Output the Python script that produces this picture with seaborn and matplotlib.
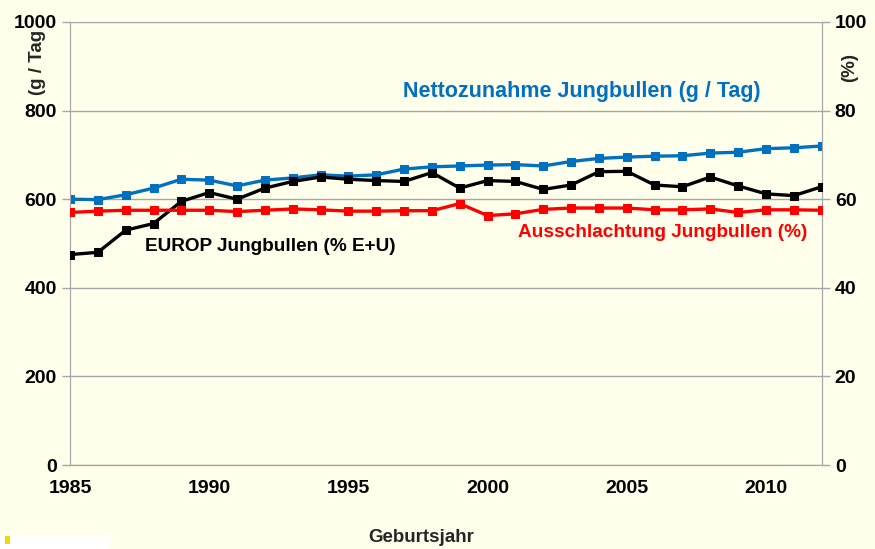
import numpy as np
import pandas as pd
import seaborn as sns
import matplotlib
import matplotlib.pyplot as plt
from matplotlib.patches import Rectangle
matplotlib.use('Agg')

# values
years = list(range(1985, 2013))
netto = [600, 599, 610, 625, 645, 643, 630, 643, 648, 655, 652, 655, 668, 673,
         675, 677, 678, 675, 685, 692, 695, 697, 698, 704, 706, 714, 716, 720]
europ = [47.5, 48.0, 53.0, 54.5, 59.5, 61.5, 60.0, 62.5, 64.0, 65.0, 64.5, 64.2, 64.0, 66.0,
         62.5, 64.2, 64.0, 62.2, 63.2, 66.2, 66.3, 63.2, 62.8, 65.0, 63.0, 61.2, 60.8, 62.8]
ausschl = [57.0, 57.3, 57.5, 57.5, 57.5, 57.5, 57.2, 57.5, 57.8, 57.6, 57.3, 57.3, 57.4, 57.4,
           59.0, 56.3, 56.7, 57.7, 58.0, 58.0, 58.0, 57.6, 57.6, 57.8, 57.0, 57.6, 57.6, 57.5]
left_ticks = [0, 200, 400, 600, 800, 1000]
right_ticks = [0, 20, 40, 60, 80, 100]
x_ticks = [1985, 1990, 1995, 2000, 2005, 2010]

df = pd.DataFrame({'Jahr': years, 'netto': netto, 'europ': europ, 'ausschl': ausschl})

bg = '#FFFFEC'
grid_col = '#A6A6A6'
blue = '#0070C0'
red = '#FF0000'

sns.set_style('white')
plt.rcParams['font.family'] = ['Liberation Sans', 'DejaVu Sans']
plt.rcParams['font.weight'] = 'bold'

fig = plt.figure(figsize=(8.75, 5.49), dpi=100, facecolor=bg)
ax = fig.add_axes([0.080, 0.153, 0.859, 0.807])
ax.set_facecolor(bg)
ax2 = ax.twinx()

sns.lineplot(data=df, x='Jahr', y='netto', ax=ax, color=blue, lw=2.4,
             marker='s', markersize=5.5, markeredgecolor=blue, zorder=3)
sns.lineplot(data=df, x='Jahr', y='europ', ax=ax2, color='black', lw=2.4,
             marker='s', markersize=5.5, markeredgecolor='black', zorder=3)
sns.lineplot(data=df, x='Jahr', y='ausschl', ax=ax2, color=red, lw=2.4,
             marker='s', markersize=5.5, markeredgecolor=red, zorder=3)

ax.set_xlim(1985, 2012)
ax.set_ylim(0, 1000)
ax2.set_ylim(0, 100)
ax.set_xticks(x_ticks)
ax.set_yticks(left_ticks)
ax2.set_yticks(right_ticks)
ax.set_xlabel('')
ax.set_ylabel('')
ax2.set_ylabel('')

for y in left_ticks:
    ax.axhline(y, color=grid_col, lw=1, zorder=0)

for a in (ax, ax2):
    for s in a.spines.values():
        s.set_color(grid_col)
    a.spines['top'].set_visible(False)
    a.tick_params(colors=grid_col, labelcolor='black', labelsize=14,
                  length=6, width=1, direction='out')
    for lab in a.get_xticklabels() + a.get_yticklabels():
        lab.set_fontweight('bold')
ax.tick_params(axis='x', pad=5)

ax.text(2003.4, 842, 'Nettozunahme Jungbullen (g / Tag)', color=blue,
        fontsize=15.5, fontweight='bold', ha='center', va='center')
ax.text(1987.7, 494, 'EUROP Jungbullen (% E+U)', color='black',
        fontsize=13.7, fontweight='bold', ha='left', va='center')
ax.text(2006.3, 524, 'Ausschlachtung Jungbullen (%)', color=red,
        fontsize=13.7, fontweight='bold', ha='center', va='center')

fig.text(421 / 875, 1 - 537 / 549, 'Geburtsjahr', fontsize=13.5, fontweight='bold',
         ha='center', va='center')
fig.text(38 / 875, 1 - 62 / 549, '(g / Tag', fontsize=13.5, fontweight='bold',
         rotation=90, ha='center', va='center')
fig.text(850 / 875, 1 - 68 / 549, '(%)', fontsize=13.5, fontweight='bold',
         rotation=90, ha='center', va='center')

# cut-off logo corner at bottom left
fig.patches.append(Rectangle((0, 0), 110 / 875, 14 / 549, transform=fig.transFigure,
                             facecolor='white', edgecolor='none'))
fig.patches.append(Rectangle((5 / 875, 5 / 549), 5 / 875, 8 / 549, transform=fig.transFigure,
                             facecolor='#F5D800', edgecolor='none'))

fig.savefig('out.png', dpi=100, facecolor=bg)
